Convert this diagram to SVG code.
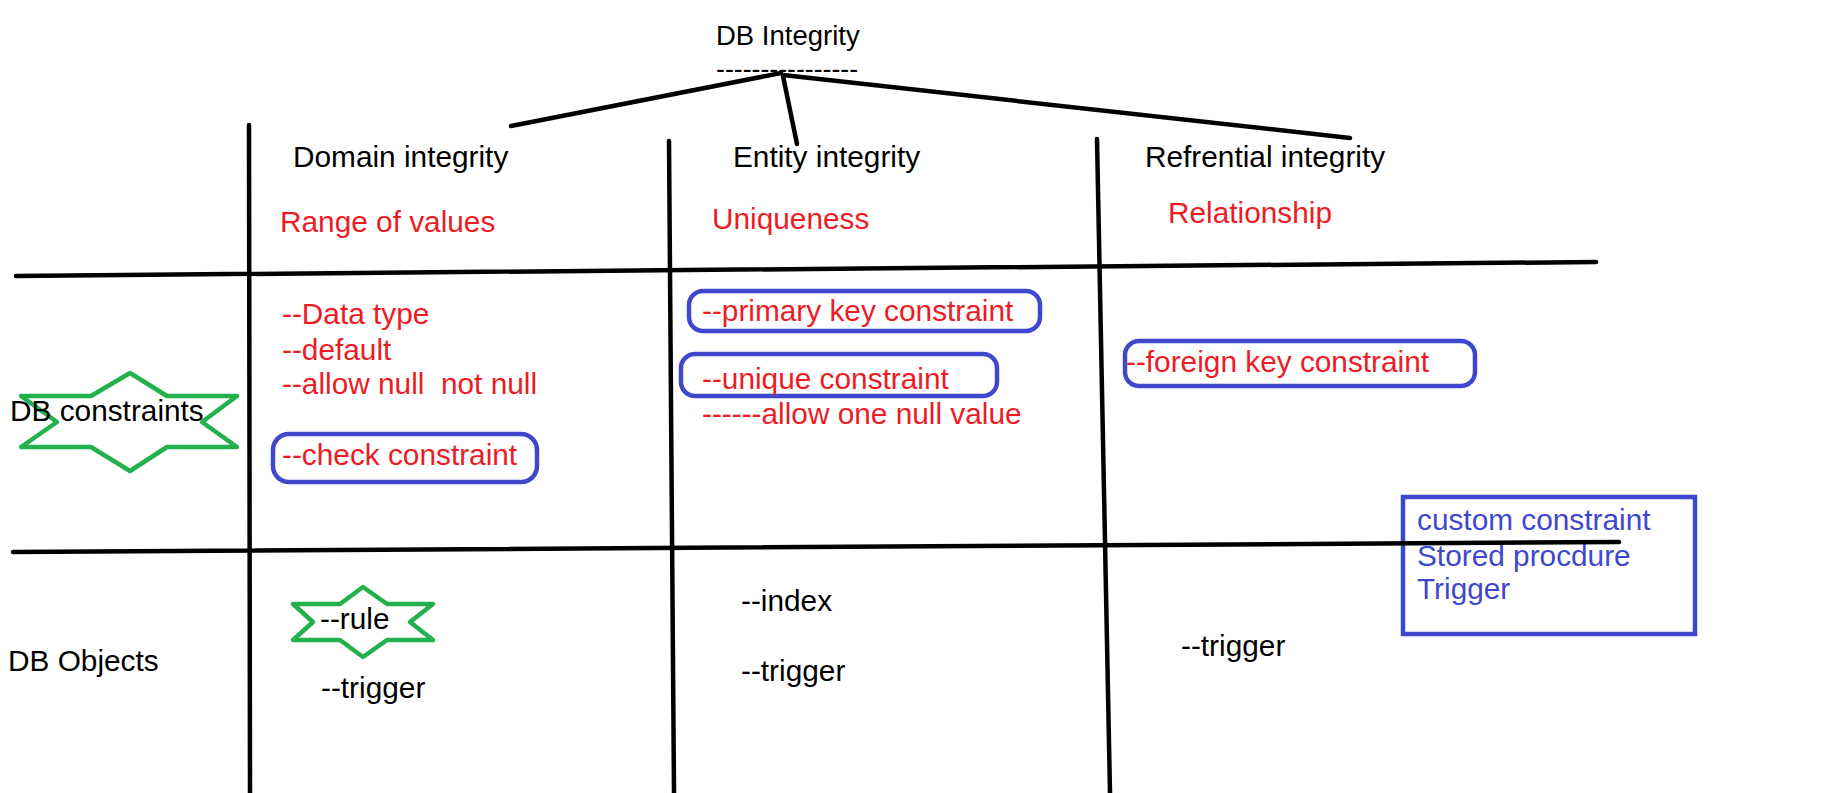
<svg xmlns="http://www.w3.org/2000/svg" width="1827" height="793" viewBox="0 0 1827 793">
<style>
text{font-family:"Liberation Sans",Arial,sans-serif;font-size:29.8px;white-space:pre}
.k{fill:#000}
.r{fill:#ED1C24}
.b{fill:#3F48CC}
.ln{stroke:#000;stroke-width:4.5;stroke-linecap:round;fill:none}
.box{fill:none;stroke:#3F48CC;stroke-width:4.5}
.star{fill:none;stroke:#22B14C;stroke-width:4.5;stroke-linejoin:round}
</style>
<rect width="1827" height="793" fill="#fff"/>
<g id="title">
<text class="k" x="716" y="45" style="font-size:27.5px">DB Integrity</text>
<text class="k" x="716" y="78" style="font-size:27px" textLength="142" lengthAdjust="spacingAndGlyphs">----------------</text>
</g>
<g id="domain">
<text class="k" x="293" y="167">Domain integrity</text>
<text class="r" x="280" y="232">Range of values</text>
</g>
<g id="entity">
<text class="k" x="733" y="167">Entity integrity</text>
<text class="r" x="712" y="229">Uniqueness</text>
</g>
<g id="referential">
<text class="k" x="1145" y="167">Refrential integrity</text>
<text class="r" x="1168" y="223">Relationship</text>
</g>
<g id="db-constraints">
<polygon class="star" points="130,373 167,396 237,396 202,422 237,447 167,447 130,471 91,447 21,447 57,422 21,396 91,396"/>
<text class="k" x="10" y="421">DB constraints</text>
</g>
<g id="domain-constraints">
<text class="r" x="282" y="324">--Data type</text>
<text class="r" x="282" y="360">--default</text>
<text class="r" x="282" y="394">--allow null  not null</text>
</g>
<g id="check-constraint">
<rect class="box" x="273" y="434" width="264" height="48" rx="16"/>
<text class="r" x="282" y="465">--check constraint</text>
</g>
<g id="primary-key">
<rect class="box" x="689" y="291" width="351" height="40" rx="14"/>
<text class="r" x="702" y="321">--primary key constraint</text>
</g>
<g id="unique-constraint">
<rect class="box" x="681" y="354" width="316" height="42" rx="14"/>
<text class="r" x="702" y="389">--unique constraint</text>
</g>
<g id="unique-note">
<text class="r" x="702" y="424">------allow one null value</text>
</g>
<g id="foreign-key">
<rect class="box" x="1125" y="341" width="350" height="45" rx="14"/>
<text class="r" x="1126" y="372">--foreign key constraint</text>
</g>
<g id="custom">
<rect class="box" x="1403" y="497" width="292" height="137"/>
<text class="b" x="1417" y="530">custom constraint</text>
<text class="b" x="1417" y="566">Stored procdure</text>
<text class="b" x="1417" y="599">Trigger</text>
</g>
<g id="db-objects">
<text class="k" x="8" y="671">DB Objects</text>
</g>
<g id="rule">
<polygon class="star" points="363,587 387,604 433,604 410,622 433,640 387,640 363,657 340,640 293,640 313,622 293,604 340,604"/>
<text class="k" x="320" y="629">--rule</text>
</g>
<g id="domain-objects">
<text class="k" x="321" y="698">--trigger</text>
</g>
<g id="entity-objects">
<text class="k" x="741" y="611">--index</text>
<text class="k" x="741" y="681">--trigger</text>
</g>
<g id="ref-objects">
<text class="k" x="1181" y="656">--trigger</text>
</g>
<g id="connectors">
<line class="ln" x1="781" y1="73" x2="511" y2="126"/>
<line class="ln" x1="783" y1="76" x2="797" y2="144"/>
<line class="ln" x1="783" y1="75" x2="1350" y2="138"/>
<line class="ln" x1="249" y1="125" x2="250" y2="793"/>
<line class="ln" x1="669" y1="141" x2="674" y2="793"/>
<line class="ln" x1="1097" y1="139" x2="1110" y2="793"/>
<line class="ln" x1="16" y1="276" x2="1596" y2="262"/>
<line class="ln" x1="13" y1="552" x2="1619" y2="542"/>
</g>
</svg>
